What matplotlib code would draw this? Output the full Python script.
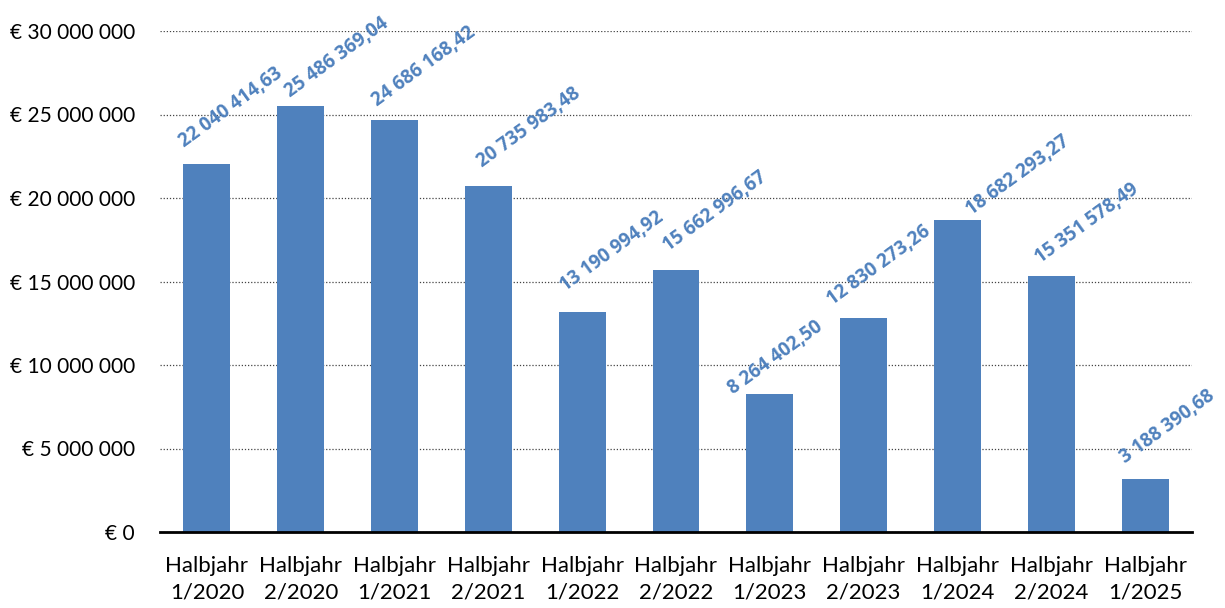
import matplotlib
matplotlib.use("Agg")
import matplotlib.pyplot as plt
from matplotlib.ticker import FuncFormatter

categories = ["Halbjahr\n1/2020", "Halbjahr\n2/2020", "Halbjahr\n1/2021", "Halbjahr\n2/2021",
              "Halbjahr\n1/2022", "Halbjahr\n2/2022", "Halbjahr\n1/2023", "Halbjahr\n2/2023",
              "Halbjahr\n1/2024", "Halbjahr\n2/2024", "Halbjahr\n1/2025"]
values = [22040414.63, 25486369.04, 24686168.42, 20735983.48, 13190994.92, 15662996.67,
          8264402.50, 12830273.26, 18682293.27, 15351578.49, 3188390.68]
label_texts = ["22 040 414,63", "25 486 369,04", "24 686 168,42", "20 735 983,48",
               "13 190 994,92", "15 662 996,67", "8 264 402,50", "12 830 273,26",
               "18 682 293,27", "15 351 578,49", "3 188 390,68"]
yticks = [0, 5000000, 10000000, 15000000, 20000000, 25000000, 30000000]

# label placement offsets (pixels, relative to bar top centre) - styling only
label_dx = [-23, -10, -17, -6, -17, -8, -37, -31, 14, -11, -20]
label_dy = [16, 9, 13, 18, 20, 19, -1, 12, 4, 12, 15]

plt.rcParams['font.family'] = ['Lato', 'DejaVu Sans']
color = "#4F81BD"

fig = plt.figure(figsize=(12.25, 6.08), dpi=100)
ax = fig.add_axes([160/1225, 1 - 532/608, (1192-160)/1225, (532-31)/608])

x = list(range(len(values)))
ax.bar(x, values, width=0.5, color=color, zorder=3)
ax.set_xlim(-0.5, len(values) - 0.5)
ax.set_ylim(0, 30000000)
ax.set_yticks(yticks)

def fmt(v, pos):
    if v == 0:
        return "€ 0"
    s = f"{int(v):,}".replace(",", " ")
    return "€ " + s
ax.yaxis.set_major_formatter(FuncFormatter(fmt))
ax.set_xticks(x)
ax.set_xticklabels(categories, fontsize=16, color="#000000", linespacing=1.4)
ax.tick_params(axis='y', labelsize=15, length=0, pad=18)
ax.tick_params(axis='x', length=0, pad=17)

ax.grid(axis='y', linestyle=(0, (1, 1.5)), color="#444444", linewidth=0.9, zorder=0)
for s in ["top", "right", "left"]:
    ax.spines[s].set_visible(False)
ax.spines["bottom"].set_linewidth(2)
ax.spines["bottom"].set_color("black")
ax.spines["bottom"].set_zorder(4)

for xi, v, t, dx, dy in zip(x, values, label_texts, label_dx, label_dy):
    ax.annotate(t, xy=(xi, v), xytext=(dx, dy), textcoords="offset pixels",
                rotation=36, rotation_mode="anchor", ha="left", va="baseline",
                color=color, fontsize=13.5, fontweight="bold", family="Open Sans", zorder=5)

fig.savefig("out.png", dpi=100)
